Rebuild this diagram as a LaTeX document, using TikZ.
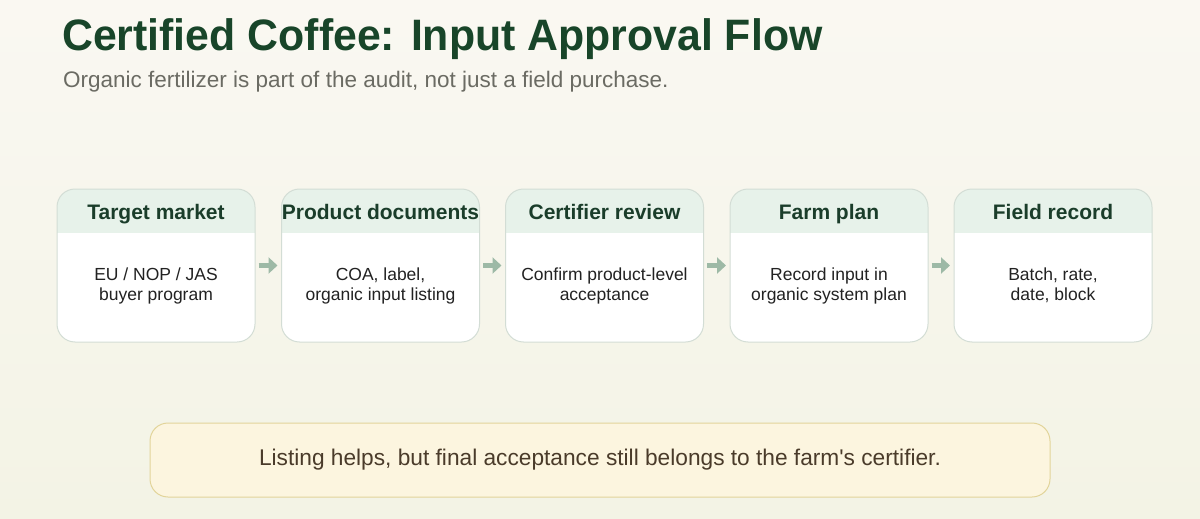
\documentclass[tikz,border=0pt]{standalone}
\usepackage{fontspec}
\setmainfont{Liberation Sans}
\usetikzlibrary{arrows.meta, positioning, shapes}

\definecolor{bgtop}{HTML}{FAF8F2}
\definecolor{bgbottom}{HTML}{F3F3E5}
\definecolor{titlegreen}{HTML}{184529}
\definecolor{subgray}{HTML}{6B6B63}
\definecolor{headfill}{HTML}{E7F2EA}
\definecolor{headtext}{HTML}{1A3D2A}
\definecolor{cardline}{HTML}{D3DDD5}
\definecolor{arrowgreen}{HTML}{9DB9A6}
\definecolor{bodytext}{HTML}{222222}
\definecolor{notefill}{HTML}{FCF5DF}
\definecolor{noteline}{HTML}{E2D49A}
\definecolor{notetext}{HTML}{4A3B2A}

\begin{document}
\begin{tikzpicture}[
    x=1pt, y=-1pt,
    % Define node styles
    card/.style={rectangle, rounded corners=18pt, draw=cardline, line width=1pt,
                 fill=white, minimum width=198pt, minimum height=153pt,
                 inner sep=0pt,
                 path picture={\fill[headfill, sharp corners] (path picture bounding box.north west)
                     rectangle ([yshift=-44pt]path picture bounding box.north east);}},
    head/.style={font=\fontsize{21}{25}\selectfont\bfseries, text=headtext, anchor=base},
    body/.style={font=\fontsize{17.5}{20}\selectfont, text=bodytext, align=center},
    flow/.style={-{Triangle[length=9pt, width=16pt]}, line width=4.5pt, draw=arrowgreen,
                 shorten <=3pt, shorten >=3.5pt},
    note/.style={rectangle, rounded corners=18pt, draw=noteline, line width=1pt,
                 fill=notefill, minimum width=900pt, minimum height=74pt,
                 font=\fontsize{22.7}{27}\selectfont, text=notetext}
]
    % Background
    \shade[top color=bgtop, bottom color=bgbottom] (0,0) rectangle (1200,519);
    \useasboundingbox (0,0) rectangle (1200,519);

    % Title
    \node[anchor=base west, inner sep=0pt, font=\fontsize{44}{50}\selectfont\bfseries,
          text=titlegreen] (title) at (62,51) {\scalebox{0.973}[1]{Certified Coffee: Input Approval Flow}};
    \node[anchor=base west, inner sep=0pt, font=\fontsize{22.5}{26}\selectfont,
          text=subgray] (subtitle) at (63,88) {Organic fertilizer is part of the audit, not just a field purchase.};

    % Create cards
    \node[card] (market) at (156,265.5) {};
    \node[card] (docs) at (380.5,265.5) {};
    \node[card] (review) at (604.5,265.5) {};
    \node[card] (plan) at (829,265.5) {};
    \node[card] (record) at (1053,265.5) {};

    % Card headers
    \node[head] at ([yshift=-31pt]market.north) {Target market};
    \node[head] at ([yshift=-31pt]docs.north) {Product documents};
    \node[head] at ([yshift=-31pt]review.north) {Certifier review};
    \node[head] at ([yshift=-31pt]plan.north) {Farm plan};
    \node[head] at ([yshift=-31pt]record.north) {Field record};

    % Card texts
    \node[body] at ([yshift=-20pt]market.center) {EU / NOP / JAS\\buyer program};
    \node[body] at ([yshift=-20pt]docs.center) {COA, label,\\organic input listing};
    \node[body] at ([yshift=-20pt]review.center) {Confirm product-level\\acceptance};
    \node[body] at ([yshift=-20pt]plan.center) {Record input in\\organic system plan};
    \node[body] at ([yshift=-20pt]record.center) {Batch, rate,\\date, block};

    % Draw arrows between cards
    \draw[flow] (market) -- (docs);
    \draw[flow] (docs) -- (review);
    \draw[flow] (review) -- (plan);
    \draw[flow] (plan) -- (record);

    % Bottom note
    \node[note] (remark) at (600,460) {Listing helps, but final acceptance still belongs to the farm\textquotesingle s certifier.};
\end{tikzpicture}
\end{document}
